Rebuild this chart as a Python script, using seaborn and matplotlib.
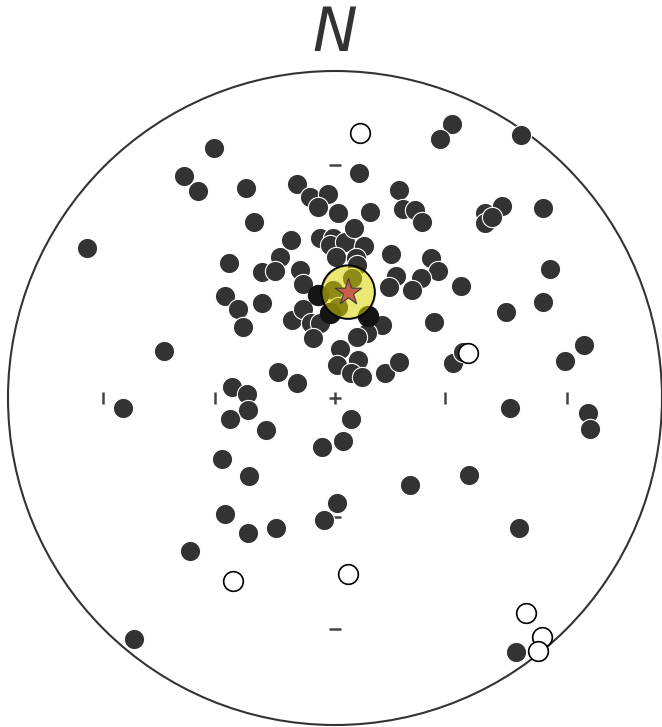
import matplotlib
matplotlib.use("Agg")
import matplotlib.pyplot as plt
from matplotlib.patches import Circle
import seaborn as sns
import pandas as pd

# Net radius in plot units; points are projected east (x) / north (y) positions
NET_R = 327

# Poles (filled symbols)
pole_x = [117, 105, 186, -121, -151, -137, -89, 24, -38, -25, -7, -17, 3, 35, 64, 68, 80, 87,
          -81, 150, 167, 150, 157, 208, -248, -106, -55, -44, -15, -2, -5, 10, 19, 29, 1, 21,
          56, 96, 103, 86, 77, 61, 54, 215, 126, -73, -60, -35, -32, -110, -97, -73, -92, -43,
          -32, -24, -15, -22, 22, 47, 32, 22, 5, 99, 171, 208, -171, 2, 23, 16, 27, 50, 64,
          118, 128, 230, 249, -57, -38, -103, -88, -212, -87, -105, -69, 16, 8, -13, 175, 253,
          255, -113, -86, 134, 75, 2, -11, -110, -87, -59, -145, 184, -201, 181,
          -2, 17, 3]
pole_y = [274, 259, 263, 250, 222, 207, 210, 225, 214, 201, 204, 191, 185, 186, 208, 189, 188, 176,
          176, 185, 192, 175, 181, 190, 150, 135, 141, 158, 160, 160, 153, 156, 170, 152, 141, 140,
          144, 140, 127, 120, 108, 122, 111, 129, 112, 126, 127, 128, 114, 102, 89, 95, 71, 78,
          89, 75, 75, 60, 133, 73, 65, 61, 49, 76, 86, 96, 47, 33, 38, 25, 21, 25, 36,
          35, 46, 37, 53, 26, 15, 11, 4, -10, -12, -21, -32, -21, -43, -49, -10, -15,
          -31, -61, -78, -77, -87, -105, -122, -116, -135, -130, -153, -130, -241, -254,
          108, 120, 91]

# Poles drawn darker
dark_x = [-17, -5, 33]
dark_y = [103, 85, 82]

# Open symbols
open_x = [25, 133, -102, 13, 191, 207, 203]
open_y = [265, 45, -183, -176, -215, -239, -253]

# Mean pole
mean_x = [13]
mean_y = [106]

# Grid ticks along the E-W and N-S diameters
tick_ew = [-232, -120, 110, 232]
tick_ns = [233, -119, -231]

sns.set_style("white")
fig = plt.figure(figsize=(6.62, 7.27), dpi=100)
ax = fig.add_axes([0, 0, 1, 1])

# Net outline
ax.add_patch(Circle((0, 0), NET_R, facecolor="white", edgecolor="#333333", lw=1.5, zorder=1))

# Ticks and centre cross
ax.plot(tick_ew, [0] * len(tick_ew), ls="none", marker="|", ms=8, mew=1.8, color="#444444", zorder=2)
ax.plot([0] * len(tick_ns), tick_ns, ls="none", marker="_", ms=9, mew=1.8, color="#444444", zorder=2)
ax.plot([0], [0], ls="none", marker="+", ms=9, mew=1.8, color="#444444", zorder=2)

poles = pd.DataFrame({"x": pole_x, "y": pole_y})
sns.scatterplot(data=poles, x="x", y="y", ax=ax, s=212, color="#333333",
                edgecolor="white", linewidth=0.8, legend=False, zorder=3)
sns.scatterplot(x=dark_x, y=dark_y, ax=ax, s=212, color="#141414",
                edgecolor="#141414", linewidth=0.8, legend=False, zorder=3)
sns.scatterplot(x=open_x, y=open_y, ax=ax, s=200, color="white",
                edgecolor="black", linewidth=1.2, legend=False, zorder=4)

# Mean pole with its confidence disc
sns.scatterplot(x=mean_x, y=mean_y, ax=ax, s=1480, color="#dcd400", alpha=0.55,
                edgecolor="black", linewidth=1.2, legend=False, zorder=5)
sns.scatterplot(x=mean_x, y=mean_y, ax=ax, s=1480, facecolor="none",
                edgecolor="black", linewidth=1.2, legend=False, zorder=5)
sns.scatterplot(x=mean_x, y=mean_y, ax=ax, s=400, marker="*", color="#c8604a",
                edgecolor="#3a3a3a", linewidth=0.8, legend=False, zorder=6)

ax.text(0, 364, "N", ha="center", va="center", fontsize=43, fontstyle="italic",
        color="#333333", family="DejaVu Sans")

ax.set_xlim(-335, 327)
ax.set_ylim(-329, 398)
ax.set_aspect("auto")
ax.axis("off")

fig.savefig("out.png", dpi=100)
